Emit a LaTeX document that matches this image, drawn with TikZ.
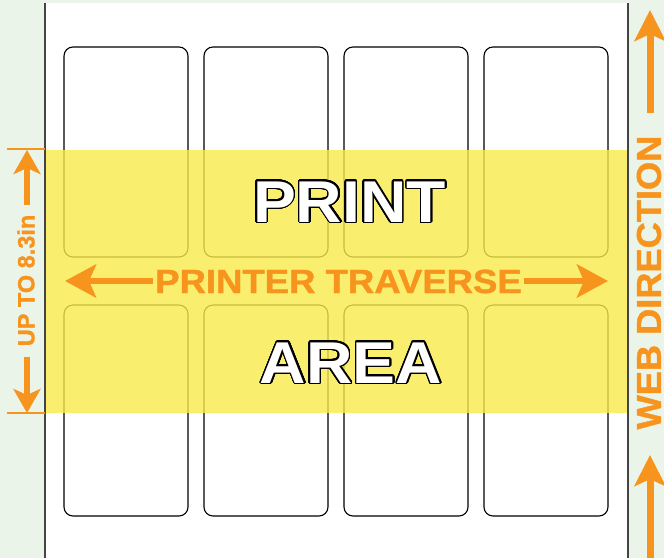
\documentclass[tikz,border=0pt]{standalone}
\usepackage{fontspec}
\setmainfont{Liberation Sans}
\newfontfamily\heavyfont{Liberation Sans Bold}[FakeBold=1.2]
\usepackage{graphicx}
\usepackage[copies]{contour}
\contourlength{1.3pt}
\contournumber{32}
\usetikzlibrary{arrows.meta}
\definecolor{bgg}{RGB}{235,244,233}
\definecolor{orng}{RGB}{247,148,29}
\definecolor{bandc}{RGB}{249,234,74}
\definecolor{webline}{RGB}{68,68,68}
\begin{document}
\begin{tikzpicture}[x=1pt,y=-1pt,
  lab/.style={draw=black, line width=1.1pt, rounded corners=9pt, minimum width=124pt, inner sep=0pt},
  band/.style={fill=bandc, fill opacity=0.8, draw=none, minimum width=583pt, minimum height=263pt, inner sep=0pt},
  edgeline/.style={draw=webline, line width=1.6pt},
  tick/.style={draw=orng, line width=2pt},
  arrv/.style={draw=orng, fill=orng, line width=6pt, -{Stealth[length=24pt,width=27pt,inset=6pt]}},
  arrh/.style={draw=orng, fill=orng, line width=6pt, -{Stealth[length=31pt,width=33pt,inset=7pt]}},
  arrw/.style={draw=orng, fill=orng, line width=7pt, -{Stealth[length=31pt,width=31pt,inset=7pt]}},
  bigtxt/.style={inner sep=0pt, anchor=base, font=\bfseries\fontsize{59}{59}\selectfont},
  orngtxt/.style={inner sep=0pt, text=orng}
]
\fill[bgg] (0,0) rectangle (664,558);
\useasboundingbox (0,0) rectangle (664,558);
\fill[white] (45,3) rectangle (628,558);
% labels
\foreach \i/\cx in {1/126,2/266,3/406,4/546}{
  \node[lab, minimum height=210pt] (t\i) at (\cx,152) {};
  \node[lab, minimum height=211pt] (b\i) at (\cx,410.5) {};
}
% print band
\node[band] (band) at (336.5,281.5) {};
% web edges
\coordinate (wl1) at (45,3); \coordinate (wl2) at (45,558);
\coordinate (wr1) at (628,3); \coordinate (wr2) at (628,558);
\draw[edgeline] (wl1) -- (wl2);
\draw[edgeline] (wr1) -- (wr2);
% left dimension
\coordinate (tk1a) at (7,149); \coordinate (tk1b) at (45,149);
\coordinate (tk2a) at (7,413); \coordinate (tk2b) at (45,413);
\draw[tick] (tk1a) -- (tk1b);
\draw[tick] (tk2a) -- (tk2b);
\coordinate (d1s) at (27,205); \coordinate (d1e) at (27,150);
\coordinate (d2s) at (27,357); \coordinate (d2e) at (27,413);
\draw[arrv] (d1s) -- (d1e);
\draw[arrv] (d2s) -- (d2e);
\node[orngtxt, rotate=90, font=\heavyfont\fontsize{23.5}{23.5}\selectfont] (upto) at (26,280.5) {UP TO 8.3in};
% web direction
\coordinate (w1s) at (650,113); \coordinate (w1e) at (650,10);
\coordinate (w2s) at (650,558); \coordinate (w2e) at (650,455);
\draw[arrw] (w1s) -- (w1e);
\draw[arrw] (w2s) -- (w2e);
\node[orngtxt, rotate=90, font=\heavyfont\fontsize{34.5}{34.5}\selectfont] (web) at (649,282.5) {\scalebox{1.05}[1]{WEB DIRECTION}};
% printer traverse
\node[orngtxt, anchor=base, font=\heavyfont\fontsize{33.5}{33.5}\selectfont] (trav) at (338.5,293) {\scalebox{1.09}[1]{PRINTER TRAVERSE}};
\coordinate (h1s) at (153,281); \coordinate (h1e) at (65,281);
\coordinate (h2s) at (524,281); \coordinate (h2e) at (608,281);
\draw[arrh] (h1s) -- (h1e);
\draw[arrh] (h2s) -- (h2e);
% big text
\node[bigtxt] (print) at (349.5,222) {\scalebox{1.09}[1]{\contour{black}{\textcolor{white}{PRINT}}}};
\node[bigtxt] (area) at (351,383) {\scalebox{1.09}[1]{\contour{black}{\textcolor{white}{AREA}}}};
\end{tikzpicture}
\end{document}
